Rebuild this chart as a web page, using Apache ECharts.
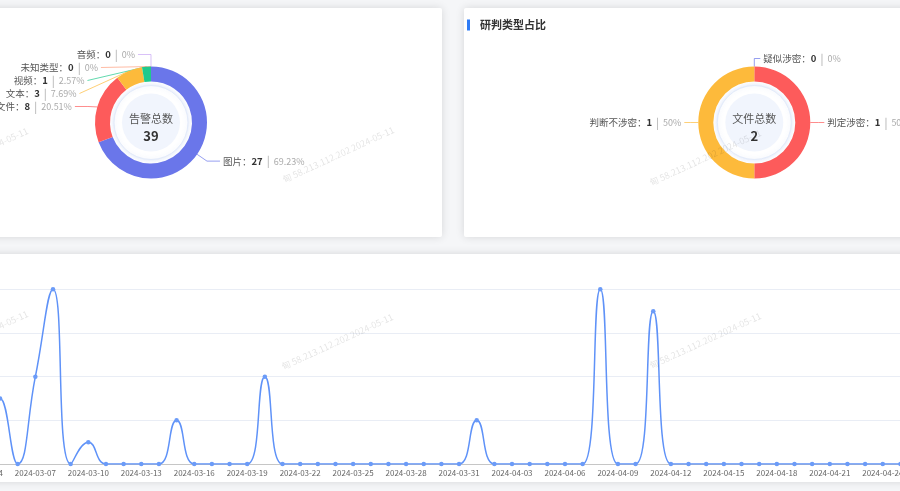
<!DOCTYPE html>
<html><head><meta charset="utf-8">
<script src="https://cdn.jsdelivr.net/npm/echarts@6/dist/echarts.min.js"></script>
<style>html,body{margin:0;padding:0;background:#f5f6f8;overflow:hidden}#c{width:900px;height:491px}</style>
</head><body><div id="c"></div>
<script>
// ---- data ----
const alarmTypes = ['图片', '文件', '文本', '视频', '音频', '未知类型'];
const alarmCounts = [27, 8, 3, 1, 0, 0];
const alarmTotal = 39;
const judgeTypes = ['疑似涉密', '判定涉密', '判断不涉密'];
const judgeCounts = [0, 1, 1];
const judgeTotal = 2;
const dates = [
 '2024-03-01','2024-03-02','2024-03-03','2024-03-04','2024-03-05','2024-03-06','2024-03-07','2024-03-08','2024-03-09','2024-03-10',
 '2024-03-11','2024-03-12','2024-03-13','2024-03-14','2024-03-15','2024-03-16','2024-03-17','2024-03-18','2024-03-19','2024-03-20',
 '2024-03-21','2024-03-22','2024-03-23','2024-03-24','2024-03-25','2024-03-26','2024-03-27','2024-03-28','2024-03-29','2024-03-30',
 '2024-03-31',
 '2024-04-01','2024-04-02','2024-04-03','2024-04-04','2024-04-05','2024-04-06','2024-04-07','2024-04-08','2024-04-09','2024-04-10',
 '2024-04-11','2024-04-12','2024-04-13','2024-04-14','2024-04-15','2024-04-16','2024-04-17','2024-04-18','2024-04-19','2024-04-20',
 '2024-04-21','2024-04-22','2024-04-23','2024-04-24','2024-04-25','2024-04-26','2024-04-27','2024-04-28','2024-04-29','2024-04-30'
];
const dailyAlarms = [
 0,0,0,0,3,0,4,8,0,1,
 0,0,0,0,2,0,0,0,0,4,
 0,0,0,0,0,0,0,0,0,0,
 0,
 2,0,0,0,0,0,0,8,0,0,
 7,0,0,0,0,0,0,0,0,0,
 0,0,0,0,0,0,0,0,0,0
];
const yTicks = [0, 2, 4, 6, 8];
const rightTitle = '研判类型占比';
const centerLabels = ['告警总数', '文件总数'];
const watermark = '甸 58.213.112.202 2024-05-11';

// ---- style / layout ----
const FONT = '"Noto Sans CJK SC", "Noto Sans", sans-serif';
const alarmColors = ['#6a76ea', '#fd5b5b', '#fdba3b', '#1fc98c', '#c9a7f5', '#ff9e7d'];
const judgeColors = ['#6a76ea', '#fd5b5b', '#fdba3b'];
const leftCenter = [151, 122.5];
const rightCenter = [754.3, 122.5];
const ringR = [41, 56];

function rich() {
  return {
    n: { fontSize: 9.5, color: '#555', fontFamily: FONT },
    v: { fontSize: 9.5, color: '#333', fontWeight: 'bold', fontFamily: FONT },
    s: { fontSize: 11, color: '#aaa', padding: [0, 4], fontFamily: FONT },
    p: { fontSize: 9, color: '#aaa', fontFamily: FONT }
  };
}
function pieSeries(names, vals, colors, center, startAngle, len, len2, dist) {
  return {
    type: 'pie', center: center, radius: ringR, startAngle: startAngle, clockwise: true,
    avoidLabelOverlap: true, z: 3,
    label: { formatter: '{n|{b}：}{v|{c}}{s||}{p|{d}%}', rich: rich(), distanceToLabelLine: dist, overflow: 'none' },
    labelLine: { length: len, length2: len2, lineStyle: { width: 1, opacity: 0.7 } },
    emphasis: { scale: false },
    data: names.map((n, i) => ({ name: n, value: vals[i], itemStyle: { color: colors[i] } }))
  };
}
function centerDeco(c, label, total) {
  return [
    { type: 'circle', shape: { cx: c[0], cy: c[1], r: 37 }, style: { fill: '#fff', stroke: '#e3ebfa', lineWidth: 1, shadowBlur: 5, shadowColor: 'rgba(90,130,220,0.2)' }, z: 1, silent: true },
    { type: 'circle', shape: { cx: c[0], cy: c[1], r: 29 }, style: { fill: '#f1f5fd' }, z: 1, silent: true },
    { type: 'text', x: c[0], y: c[1] - 4, style: { text: label, fill: '#555', font: '11px ' + FONT, textAlign: 'center', textVerticalAlign: 'middle' }, z: 5, silent: true },
    { type: 'text', x: c[0], y: c[1] + 13.5, style: { text: String(total), fill: '#333', font: 'bold 13px ' + FONT, textAlign: 'center', textVerticalAlign: 'middle' }, z: 5, silent: true }
  ];
}
const wmPos = [[-83, 181], [283, 180], [650, 183], [-83, 364], [282, 367], [650, 366]];
const graphics = [
  { type: 'rect', shape: { x: -20, y: 8, width: 462, height: 229, r: 2 }, style: { fill: '#fff', shadowBlur: 8, shadowColor: 'rgba(0,0,0,0.13)' }, z: 0, silent: true },
  { type: 'rect', shape: { x: 464, y: 8, width: 460, height: 229, r: 2 }, style: { fill: '#fff', shadowBlur: 8, shadowColor: 'rgba(0,0,0,0.13)' }, z: 0, silent: true },
  { type: 'rect', shape: { x: -20, y: 254, width: 940, height: 228, r: 2 }, style: { fill: '#fff', shadowBlur: 8, shadowColor: 'rgba(0,0,0,0.13)' }, z: 0, silent: true },
  { type: 'rect', shape: { x: 467, y: 19.5, width: 3, height: 11 }, style: { fill: '#2f7cf6' }, z: 1, silent: true },
  { type: 'text', x: 480, y: 25, style: { text: rightTitle, fill: '#333', font: 'bold 11px ' + FONT, textVerticalAlign: 'middle' }, z: 1, silent: true }
].concat(centerDeco(leftCenter, centerLabels[0], alarmTotal))
 .concat(centerDeco(rightCenter, centerLabels[1], judgeTotal))
 .concat(wmPos.map(p => ({ type: 'text', x: p[0], y: p[1], rotation: 0.43, style: { text: watermark, fill: 'rgba(0,0,0,0.11)', font: '9px ' + FONT, textVerticalAlign: 'middle' }, z: 100, silent: true })));

const chart = echarts.init(document.getElementById('c'));
chart.setOption({
  animation: false,
  textStyle: { fontFamily: FONT },
  graphic: { elements: graphics },
  grid: { left: -79.4, right: -97.5, top: 289.3, bottom: 27, containLabel: false, outerBoundsMode: 'none' },
  xAxis: {
    type: 'category', data: dates, boundaryGap: true,
    axisLine: { lineStyle: { color: '#c6c6c6' } },
    axisTick: { lineStyle: { color: '#c6c6c6' }, length: 4, interval: 2 },
    axisLabel: { interval: 2, fontSize: 8, color: '#666', margin: 5, hideOverlap: false }
  },
  yAxis: {
    type: 'value', min: yTicks[0], max: yTicks[yTicks.length - 1], interval: yTicks[1] - yTicks[0],
    axisLabel: { show: false },
    splitLine: { lineStyle: { color: '#e9edf5' } }
  },
  series: [
    pieSeries(alarmTypes, alarmCounts, alarmColors, leftCenter, 90.01, 12, 13, 3),
    pieSeries(judgeTypes, judgeCounts, judgeColors, rightCenter, 89.99, 8, 6, 3),
    {
      type: 'line', data: dailyAlarms, smooth: true, symbol: 'circle', symbolSize: 4.5,
      lineStyle: { color: '#5f92f8', width: 1.5 }, itemStyle: { color: '#6b9bf8' }, z: 3
    }
  ]
});
</script></body></html>
